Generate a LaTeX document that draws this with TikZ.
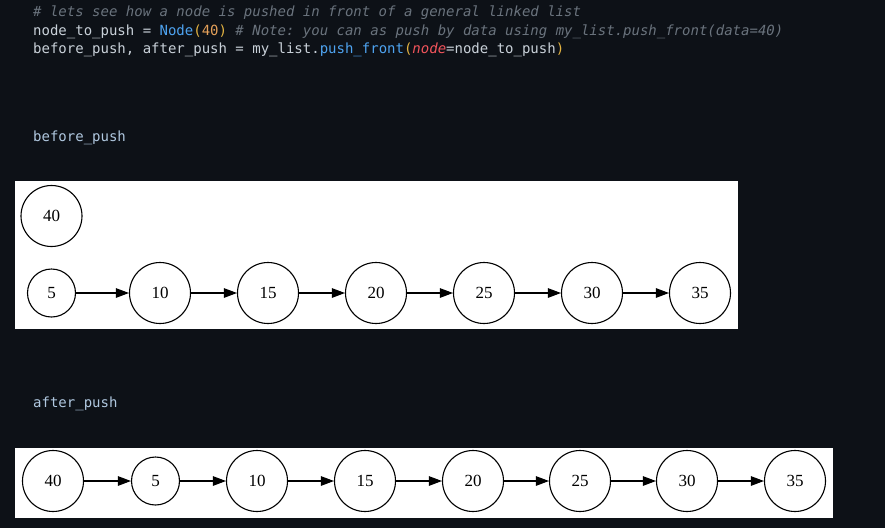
\documentclass[tikz,border=0pt]{standalone}
\usepackage{fontspec}
\setmainfont{Liberation Serif}
\setmonofont{DejaVu Sans Mono}
\usetikzlibrary{arrows.meta}
\definecolor{bgc}{HTML}{0D1117}
\definecolor{codfg}{HTML}{C9D1D9}
\definecolor{comc}{HTML}{6A737D}
\definecolor{fnc}{HTML}{4EA3F0}
\definecolor{parc}{HTML}{E3B341}
\definecolor{numc}{HTML}{E5A15A}
\definecolor{kwc}{HTML}{F2545B}
\definecolor{labc}{HTML}{B0C8E0}
\tikzset{%
    nod/.style={circle, draw, line width=1.1pt, minimum size=61pt, inner sep=0pt, font=\fontsize{17}{17}\selectfont},
    nods/.style={nod, minimum size=48pt},
    lnk/.style={line width=1.1pt, -{Triangle[length=13pt, width=9.5pt]}},
    cod/.style={anchor=base west, inner sep=0pt, font=\fontsize{14}{14}\selectfont\ttfamily, text=codfg},
    box/.style={fill=white},
}

\begin{document}
\begin{tikzpicture}[x=1pt, y=-1pt]
    \fill [bgc] (0,0) rectangle (885,528);
    \useasboundingbox (0,0) rectangle (885,528);
    % code cell
    \node [cod] (l1) at (33,16.5) {{\itshape\color{comc}\# lets see how a node is pushed in front of a general linked list}};
    \node [cod] (l2) at (33,35) {node\_to\_push = {\color{fnc}Node}{\color{parc}(}{\color{numc}40}{\color{parc})} {\itshape\color{comc}\# Note: you can as push by data using my\_list.push\_front(data=40)}};
    \node [cod] (l3) at (33,53.5) {before\_push, after\_push = my\_list.{\color{fnc}push\_front}{\color{parc}(}{\itshape\color{kwc}node}=node\_to\_push{\color{parc})}};
    % before_push
    \node [cod, text=labc] (lb) at (33,141) {before\_push};
    \fill [box] (15,181) rectangle (738,329);
    \node [nod] (b40) at (51.5,216) {40};
    \node [nods] (b5) at (51.5,293) {5};
    \node [nod] (b10) at (160,293) {10};
    \node [nod] (b15) at (268,293) {15};
    \node [nod] (b20) at (376,293) {20};
    \node [nod] (b25) at (484,293) {25};
    \node [nod] (b30) at (592,293) {30};
    \node [nod] (b35) at (700,293) {35};
    \draw [lnk] (b5) -- (b10);
    \draw [lnk] (b10) -- (b15);
    \draw [lnk] (b15) -- (b20);
    \draw [lnk] (b20) -- (b25);
    \draw [lnk] (b25) -- (b30);
    \draw [lnk] (b30) -- (b35);
    % after_push
    \node [cod, text=labc] (la) at (33,407) {after\_push};
    \fill [box] (15,448) rectangle (833,518);
    \node [nod] (a40) at (53,481) {40};
    \node [nods] (a5) at (155.5,481) {5};
    \node [nod] (a10) at (257,481) {10};
    \node [nod] (a15) at (365,481) {15};
    \node [nod] (a20) at (473,481) {20};
    \node [nod] (a25) at (580,481) {25};
    \node [nod] (a30) at (687,481) {30};
    \node [nod] (a35) at (795,481) {35};
    \draw [lnk] (a40) -- (a5);
    \draw [lnk] (a5) -- (a10);
    \draw [lnk] (a10) -- (a15);
    \draw [lnk] (a15) -- (a20);
    \draw [lnk] (a20) -- (a25);
    \draw [lnk] (a25) -- (a30);
    \draw [lnk] (a30) -- (a35);
\end{tikzpicture}
\end{document}
